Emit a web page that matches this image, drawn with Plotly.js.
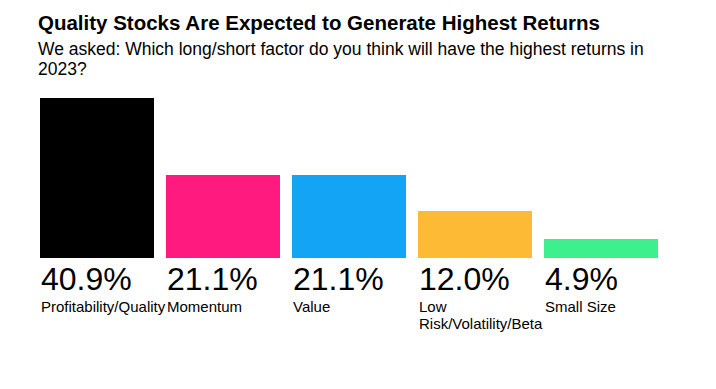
<!DOCTYPE html>
<html>
<head>
<meta charset="utf-8">
<script src="https://cdn.plot.ly/plotly-3.0.1.min.js"></script>
<style>
  html, body { margin: 0; padding: 0; background: #ffffff; }
  #chart { width: 716px; height: 389px; }
</style>
</head>
<body>
<div id="chart"></div>
<script>
// ---- Data ----
const categories = ["Profitability/Quality", "Momentum", "Value", "Low Risk/Volatility/Beta", "Small Size"];
const shares = [40.9, 21.1, 21.1, 12.0, 4.9];
const titleText = "Quality Stocks Are Expected to Generate Highest Returns";
const subtitleLines = ["We asked: Which long/short factor do you think will have the highest returns in", "2023?"];

// ---- Styles ----
const barColors = ["#000000", "#FF1A80", "#13A4F6", "#FDBA35", "#3EF08D"];
const FONT = "'Liberation Sans', Arial, Helvetica, sans-serif";
const TEXT = "#000000";

const trace = {
  type: "bar",
  x: categories,
  y: shares,
  width: 0.906,
  marker: { color: barColors, line: { width: 0 } },
  hoverinfo: "skip",
  showlegend: false
};

const annotations = [];
// title
annotations.push({
  xref: "paper", yref: "paper", x: 0, y: (258 - 10) / 160,
  xanchor: "left", yanchor: "top", xshift: 2.5, showarrow: false, borderpad: 0,
  text: "<b>" + titleText + "</b>",
  font: { family: FONT, size: 20.5, color: TEXT }
});
// subtitle lines
subtitleLines.forEach((line, i) => {
  annotations.push({
    xref: "paper", yref: "paper", x: 0, y: (258 - (38 + i * 19.7)) / 160,
    xanchor: "left", yanchor: "top", xshift: 2.5, showarrow: false, borderpad: 0,
    text: line,
    font: { family: FONT, size: 17.5, color: TEXT }
  });
});

// bar labels
categories.forEach((cat, i) => {
  annotations.push({
    xref: "x", yref: "paper", x: cat, y: 0,
    xanchor: "left", yanchor: "top", xshift: -57, yshift: -2, showarrow: false, borderpad: 0,
    text: shares[i].toFixed(1) + "%",
    font: { family: FONT, size: 32, color: TEXT }
  });
  let lines = [cat];
  if (cat.length > 18 && cat.indexOf(" ") > 0) {
    const k = cat.indexOf(" ");
    lines = [cat.slice(0, k), cat.slice(k + 1)];
  }
  lines.forEach((ln, j) => {
    annotations.push({
      xref: "x", yref: "paper", x: cat, y: 0,
      xanchor: "left", yanchor: "top", xshift: -57, yshift: -38.9 - j * 17, showarrow: false, borderpad: 0,
      text: ln,
      font: { family: FONT, size: 15, color: TEXT }
    });
  });
});

const layout = {
  width: 716, height: 389,
  margin: { l: 34.275, r: 52.475, t: 98, b: 131, pad: 0 },
  paper_bgcolor: "#ffffff", plot_bgcolor: "#ffffff",
  xaxis: { type: "category", range: [-0.5, 4.5], showticklabels: false, showgrid: false, zeroline: false, showline: false, ticks: "", fixedrange: true },
  yaxis: { range: [0, 40.9], showticklabels: false, showgrid: false, zeroline: false, showline: false, ticks: "", fixedrange: true },
  bargap: 0,
  hovermode: false,
  annotations: annotations,
  font: { family: FONT, color: TEXT }
};

Plotly.newPlot("chart", [trace], layout, { displayModeBar: false, staticPlot: true });
</script>
</body>
</html>
